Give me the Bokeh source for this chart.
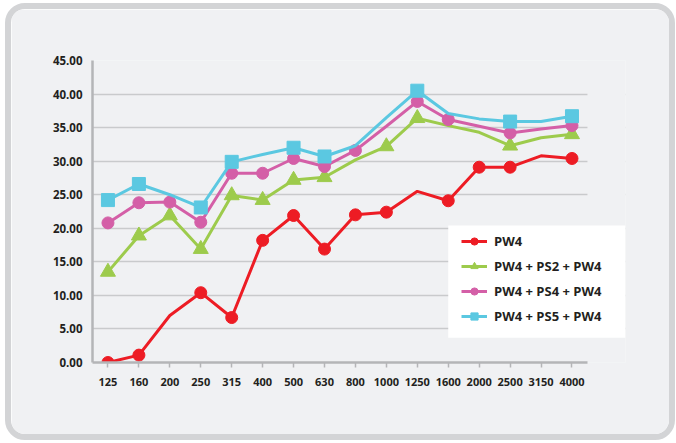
from bokeh.plotting import figure
from bokeh.models import (Range1d, NumeralTickFormatter, FixedTicker, BoxAnnotation,
                          ColumnDataSource, CDSView, BooleanFilter, Legend, LegendItem)
from bokeh.embed import file_html
from bokeh.resources import INLINE

categories = ["125", "160", "200", "250", "315", "400", "500", "630", "800",
              "1000", "1250", "1600", "2000", "2500", "3150", "4000"]

pw4 = [0.0, 1.1, 7.0, 10.4, 6.7, 18.2, 21.9, 16.9, 22.0, 22.4, 25.5, 24.1, 29.1, 29.1, 30.8, 30.4]
pw4_ps2 = [13.5, 18.9, 21.9, 16.9, 24.9, 24.2, 27.2, 27.6, 30.2, 32.2, 36.4, 35.3, 34.3, 32.3, 33.5, 34.0]
pw4_ps4 = [20.8, 23.8, 23.9, 20.9, 28.2, 28.2, 30.4, 29.2, 31.6, 35.2, 38.9, 36.2, 35.2, 34.2, 34.8, 35.3]
pw4_ps5 = [24.2, 26.6, 25.0, 23.1, 29.9, 31.0, 32.0, 30.7, 32.3, 36.5, 40.5, 37.1, 36.3, 35.9, 35.9, 36.7]

pw4_marks = [1, 1, 0, 1, 1, 1, 1, 1, 1, 1, 0, 1, 1, 1, 0, 1]
ps2_marks = [1, 1, 1, 1, 1, 1, 1, 1, 0, 1, 1, 0, 0, 1, 0, 1]
ps4_marks = [1, 1, 1, 1, 1, 1, 1, 1, 1, 0, 1, 1, 0, 1, 0, 1]
ps5_marks = [1, 1, 0, 1, 1, 0, 1, 1, 0, 0, 1, 0, 0, 1, 0, 1]

series_names = ["PW4", "PW4 + PS2 + PW4", "PW4 + PS4 + PW4", "PW4 + PS5 + PW4"]
y_ticks = [0, 5, 10, 15, 20, 25, 30, 35, 40, 45]

BG = "#f0f1f3"
TXT = "#231f20"
FONT = "Open Sans"

xpos = list(range(len(categories)))
x_end = len(categories) - 0.5          # end of the category axis
extra = 1.23                            # room for the legend that overhangs the axis

p = figure(x_range=Range1d(-0.5, x_end + extra),
           y_range=Range1d(0, 45),
           width=670, height=437,
           min_border_left=81, min_border_right=56,
           min_border_top=51, min_border_bottom=84,
           output_backend="svg", toolbar_location=None)
p.styles = {"border": "6px solid #d3d4d6", "border-radius": "20px", "overflow": "hidden",
            "margin-left": "5px", "margin-top": "3px"}
p.background_fill_color = BG
p.border_fill_color = BG
p.outline_line_color = None

p.xgrid.grid_line_color = None
p.ygrid.grid_line_color = "#c9cacc"
p.ygrid.grid_line_width = 1.5
p.ygrid.ticker = FixedTicker(ticks=y_ticks)

# hide grid lines beyond the end of the category axis
p.add_layout(BoxAnnotation(left=x_end, fill_color=BG, fill_alpha=1, line_color=None,
                           level="underlay"))

p.yaxis.ticker = FixedTicker(ticks=y_ticks)
p.yaxis.formatter = NumeralTickFormatter(format="0.00")
p.xaxis.ticker = FixedTicker(ticks=xpos)
p.xaxis.major_label_overrides = {i: c for i, c in zip(xpos, categories)}
p.xaxis.bounds = (-0.5, x_end)
for ax in (p.xaxis, p.yaxis):
    ax.axis_line_color = "#b4b5b7"
    ax.axis_line_width = 2.5
    ax.major_tick_line_color = "#b4b5b7"
    ax.major_tick_line_width = 1.5
    ax.minor_tick_line_color = None
    ax.major_label_text_color = TXT
    ax.major_label_text_font = FONT
    ax.major_label_text_font_style = "bold"
p.yaxis.major_tick_out = 0
p.yaxis.major_tick_in = 0
p.yaxis.major_label_standoff = 10
p.yaxis.major_label_text_font_size = "11.5px"
p.xaxis.major_tick_out = 5
p.xaxis.major_tick_in = 0
p.xaxis.major_label_standoff = 10
p.xaxis.major_label_text_font_size = "11px"

# white panel behind the legend (legend box overhangs the axis end)
p.add_layout(BoxAnnotation(left=11.0, right=x_end + extra, bottom=3.7, top=20.4,
                           fill_color="white", fill_alpha=1, line_color=None))

styles = [
    ("#ed1c24", "circle", 12, pw4, pw4_marks),
    ("#9dcb4c", "triangle", 15, pw4_ps2, ps2_marks),
    ("#d45fa7", "circle", 12, pw4_ps4, ps4_marks),
    ("#5bc8e1", "square", 13, pw4_ps5, ps5_marks),
]

items = []
for name, (color, marker, size, vals, marks) in zip(series_names, styles):
    src = ColumnDataSource(dict(x=xpos, y=vals))
    ln = p.line("x", "y", source=src, line_color=color, line_width=3)
    view = CDSView(filter=BooleanFilter([bool(m) for m in marks]))
    sc = p.scatter("x", "y", source=src, view=view, marker=marker, size=size,
                   fill_color=color, line_color=color)
    items.append(LegendItem(label=name, renderers=[ln, sc]))

legend = Legend(items=items, location=(369, 37))
legend.margin = 0
legend.padding = 0
legend.background_fill_alpha = 0
legend.border_line_color = None
legend.spacing = 7
legend.glyph_width = 26
legend.glyph_height = 18
legend.label_height = 18
legend.label_standoff = 7
legend.label_text_font = FONT
legend.label_text_font_style = "bold"
legend.label_text_font_size = "13px"
legend.label_text_color = TXT
p.add_layout(legend, "center")

open("out.html", "w").write(file_html(p, INLINE))
